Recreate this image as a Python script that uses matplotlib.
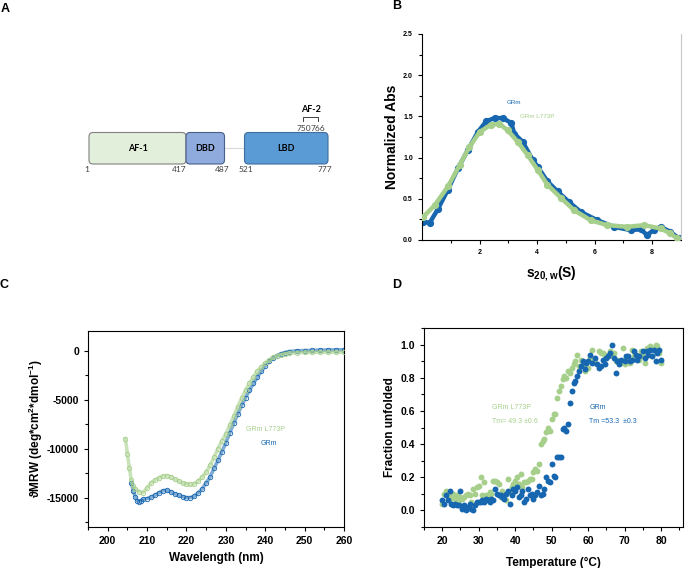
import matplotlib
matplotlib.use('Agg')
import matplotlib.pyplot as plt
from matplotlib.patches import FancyBboxPatch
from matplotlib.ticker import MultipleLocator, FixedLocator

plt.rcParams['font.family'] = ['Liberation Sans', 'DejaVu Sans']
plt.rcParams['axes.unicode_minus'] = False
plt.rcParams['mathtext.fontset'] = 'custom'
plt.rcParams['mathtext.rm'] = 'Liberation Sans:bold'
plt.rcParams['mathtext.bf'] = 'Liberation Sans:bold'
plt.rcParams['mathtext.it'] = 'Liberation Sans:bold'

# ---------------- data ----------------
# Panel A: domain schematic
domain_names = ['AF-1', 'DBD', 'LBD']
residue_labels = ['1', '417', '487', '521', '777']
af2_label = 'AF-2'
af2_residues = ['750', '766']

# Panel B: sedimentation velocity c(s)
b_s_grm = [0.04, 0.27, 0.56, 0.90, 1.25, 1.59, 1.94, 2.23, 2.52, 2.81, 3.10, 3.21,
           3.50, 3.85, 4.02, 4.36, 4.71, 5.11, 5.52, 6.09, 6.67, 7.25, 7.60, 7.82,
           8.05, 8.29, 8.63, 8.92]
b_abs_grm = [0.22, 0.21, 0.38, 0.61, 0.87, 1.09, 1.31, 1.44, 1.48, 1.48, 1.42, 1.29,
             1.19, 0.97, 0.89, 0.71, 0.59, 0.46, 0.34, 0.24, 0.16, 0.12, 0.13, 0.06,
             0.12, 0.16, 0.10, 0.02]
b_s_mut = [0.04, 0.44, 0.90, 1.31, 1.65, 2.00, 2.40, 2.69, 2.98, 3.33, 3.67, 4.02,
           4.36, 4.83, 5.29, 5.86, 6.44, 7.13, 7.71, 8.29, 8.63, 8.86]
b_abs_mut = [0.28, 0.42, 0.65, 0.91, 1.13, 1.31, 1.40, 1.41, 1.33, 1.19, 1.03, 0.85,
             0.67, 0.51, 0.36, 0.24, 0.18, 0.16, 0.18, 0.14, 0.08, 0.02]

# Panel C: far-UV CD spectra
c_wl_mut = [204.5, 205, 205.5, 206, 206.5, 207, 208, 209, 210, 211, 212, 213, 214, 215,
            216, 217, 218, 219, 220, 221, 222, 223, 224, 225, 226, 227, 228, 229, 230,
            231, 232, 233, 234, 235, 236, 237, 238, 239, 240, 241, 242, 243, 244, 245,
            246, 248, 250, 252, 254, 256, 258, 260]
c_cd_mut = [-9000, -10500, -12000, -13200, -13800, -14100, -14400, -14500, -14000,
            -13500, -13200, -13000, -12800, -12750, -12900, -13100, -13300, -13500,
            -13600, -13650, -13600, -13300, -12900, -12400, -11700, -10900, -10000,
            -9200, -8500, -7600, -6700, -5750, -4850, -4050, -3300, -2700, -2100,
            -1650, -1250, -950, -700, -520, -400, -320, -260, -210, -190, -170, -160,
            -160, -160, -160]
c_wl_grm = [206, 206.5, 207, 207.5, 208, 208.5, 209, 210, 211, 212, 213, 214, 215, 216,
            217, 218, 219, 220, 221, 222, 223, 224, 225, 226, 227, 228, 229, 230, 231,
            232, 233, 234, 235, 236, 237, 238, 239, 240, 241, 242, 243, 244, 245, 246,
            248, 250, 252, 254, 256, 258, 260]
c_cd_grm = [-13500, -14300, -14900, -15300, -15400, -15300, -15150, -15100, -14950,
            -14750, -14500, -14300, -14250, -14400, -14600, -14750, -14900, -15000,
            -15000, -14850, -14500, -14100, -13500, -12900, -12000, -11200, -10300,
            -9400, -8400, -7400, -6500, -5600, -4800, -4050, -3350, -2700, -2100, -1550,
            -1100, -750, -500, -320, -200, -100, -20, 0, 30, 50, 70, 80, 90]

# Panel D: thermal denaturation
d_t_mut = [20.0, 20.5, 21.0, 21.5, 22.0, 22.5, 23.0, 23.5, 24.0, 24.5, 25.0, 25.5, 26.0,
           26.5, 27.0, 27.5, 28.0, 28.5, 29.0, 29.5, 30.0, 30.5, 31.0, 31.5, 32.0, 32.5,
           33.0, 33.5, 34.0, 34.5, 35.0, 35.5, 36.0, 36.5, 37.0, 37.5, 38.0, 38.5, 39.0,
           39.5, 40.0, 40.5, 41.0, 41.5, 42.0, 42.5, 43.0, 43.5, 44.0, 44.5, 45.0, 45.5,
           46.0, 46.5, 47.0, 47.5, 48.0, 48.5, 49.0, 49.5, 50.0, 50.5, 51.0, 51.5, 52.0,
           52.5, 53.0, 53.5, 54.0, 54.5, 55.0, 55.5, 56.0, 56.5, 57.0, 57.5, 58.0, 58.5,
           59.0, 59.5, 60.0, 60.5, 61.0, 61.5, 62.0, 63.0, 63.5, 64.0, 64.5, 65.0, 65.5,
           66.0, 66.5, 67.0, 67.5, 68.0, 69.0, 69.5, 70.0, 70.5, 71.0, 71.5, 72.0, 72.5,
           73.0, 74.0, 74.5, 75.0, 75.5, 76.0, 76.5, 77.0, 77.5, 78.0, 78.5, 79.0, 79.5,
           80.0]
d_f_mut = [0.04, 0.10, 0.12, 0.08, 0.07, 0.09, 0.10, 0.07, 0.09, 0.06, 0.08, 0.07, 0.08,
           0.09, 0.10, 0.09, 0.05, 0.13, 0.10, 0.14, 0.15, 0.20, 0.09, 0.17, 0.09, 0.09,
           0.11, 0.10, 0.18, 0.18, 0.17, 0.16, 0.08, 0.12, 0.09, 0.06, 0.19, 0.11, 0.14,
           0.16, 0.18, 0.20, 0.16, 0.22, 0.14, 0.17, 0.17, 0.18, 0.19, 0.19, 0.23, 0.25,
           0.24, 0.28, 0.40, 0.42, 0.43, 0.47, 0.50, 0.48, 0.55, 0.58, 0.58, 0.68, 0.72,
           0.75, 0.79, 0.81, 0.80, 0.84, 0.83, 0.86, 0.88, 0.90, 0.94, 0.87, 0.91, 0.88,
           0.84, 0.87, 0.86, 0.92, 0.97, 0.90, 0.89, 0.96, 0.95, 0.95, 0.94, 0.92, 0.93,
           0.96, 0.94, 0.95, 0.90, 0.91, 0.89, 0.98, 0.88, 0.92, 0.92, 0.89, 0.97, 0.93,
           0.94, 0.91, 0.96, 0.93, 0.89, 0.98, 0.97, 0.99, 0.93, 0.98, 1.00, 0.99, 0.95,
           0.89]
d_t_grm = [20.0, 20.5, 21.0, 21.5, 22.0, 22.5, 23.0, 23.5, 24.0, 24.5, 25.0, 25.5, 26.0,
           26.5, 27.0, 27.5, 28.0, 28.5, 29.0, 29.5, 30.0, 30.5, 31.0, 31.5, 32.0, 32.5,
           33.0, 33.5, 34.0, 34.5, 35.0, 35.5, 36.0, 36.5, 37.0, 37.5, 38.0, 38.5, 39.0,
           39.5, 40.0, 40.5, 41.0, 41.5, 42.0, 42.5, 43.0, 43.5, 44.0, 44.5, 45.0, 45.5,
           46.0, 46.5, 47.0, 47.5, 48.0, 48.5, 49.0, 49.5, 50.0, 50.5, 51.0, 51.5, 52.0,
           52.5, 53.0, 53.5, 54.0, 54.5, 55.0, 55.5, 56.0, 56.5, 57.0, 57.5, 58.0, 58.5,
           59.0, 59.5, 60.0, 60.5, 61.0, 62.0, 62.5, 63.0, 63.5, 64.0, 64.5, 65.0, 65.5,
           66.0, 66.5, 67.0, 67.5, 68.0, 68.5, 69.0, 70.0, 70.5, 71.0, 71.5, 72.0, 72.5,
           73.0, 73.5, 74.0, 75.0, 75.5, 76.0, 76.5, 77.0, 77.5, 78.0, 78.5, 79.0, 79.5,
           80.0]
d_f_grm = [0.06, 0.04, 0.09, 0.06, 0.12, 0.04, 0.03, 0.04, 0.03, 0.03, 0.12, 0.01, 0.03,
           0.00, 0.02, 0.04, 0.01, 0.00, 0.03, 0.05, 0.05, 0.05, 0.06, 0.05, 0.07, 0.06,
           0.05, 0.07, 0.06, 0.13, 0.10, 0.09, 0.09, 0.08, 0.07, 0.10, 0.12, 0.04, 0.09,
           0.13, 0.12, 0.14, 0.08, 0.09, 0.12, 0.05, 0.07, 0.13, 0.09, 0.10, 0.07, 0.09,
           0.11, 0.15, 0.09, 0.10, 0.13, 0.20, 0.18, 0.17, 0.28, 0.21, 0.20, 0.32, 0.32,
           0.32, 0.49, 0.50, 0.48, 0.52, 0.65, 0.72, 0.77, 0.78, 0.81, 0.84, 0.87, 0.90,
           0.85, 0.89, 0.90, 0.94, 0.89, 0.92, 0.88, 0.86, 0.87, 0.91, 0.88, 0.92, 0.93,
           0.95, 1.00, 0.92, 0.83, 0.90, 0.88, 0.91, 0.90, 0.93, 0.93, 0.90, 0.91, 0.96,
           0.94, 0.91, 0.93, 0.96, 0.92, 0.96, 0.94, 0.97, 0.93, 0.97, 0.90, 0.95, 0.97,
           0.91]

series_names = ['GRm', 'GRm L773P']
tm_labels = ['Tm =53.3  \u00b10.3', 'Tm= 49.3 \u00b10.6']

# ---------------- style ----------------
BLUE = '#1666b0'
GREEN = '#a6cf8b'
W, H = 685, 568
fig = plt.figure(figsize=(W / 100, H / 100), dpi=100)

def fpos(l, t, r, b):
    return [l / W, 1 - b / H, (r - l) / W, (b - t) / H]

# overlay for schematic & panel letters (pixel coordinates)
ax0 = fig.add_axes([0, 0, 1, 1])
ax0.set_xlim(0, W)
ax0.set_ylim(H, 0)
ax0.axis('off')

for lab, (x, y) in zip(['A', 'B', 'C', 'D'], [(5, 9), (397, 6), (4, 285), (397, 285)]):
    ax0.text(x, y, lab, fontsize=9, fontweight='bold', ha='center', va='center')

# schematic
box_x = [(89, 186), (186, 224.5), (244.5, 328)]
box_fc = ['#e2efda', '#8faadc', '#5b9bd5']
box_ec = ['#808080', '#4a5f8a', '#3d6e9e']
y0, y1 = 132.5, 164
ax0.plot([224.5, 244.5], [148, 148], color='#d9d9d9', lw=0.8, zorder=1)
for name, (xa, xb), fc, ec in zip(domain_names, box_x, box_fc, box_ec):
    p = FancyBboxPatch((xa, y0), xb - xa, y1 - y0,
                       boxstyle='round,pad=0,rounding_size=4',
                       fc=fc, ec=ec, lw=0.8, zorder=2)
    ax0.add_patch(p)
    ax0.text((xa + xb) / 2, (y0 + y1) / 2, name, fontsize=6.5, fontweight='bold',
             family=['Lato', 'DejaVu Sans'], ha='center', va='center', zorder=3)
res_pos = [(86.7, 'center'), (186, 'right'), (229.5, 'right'), (238.5, 'left'), (332, 'right')]
for lab, (x, ha) in zip(residue_labels, res_pos):
    ax0.text(x, 169.5, lab, fontsize=6, family=['Lato', 'DejaVu Sans'], color='#404040',
             ha=ha, va='center')
ax0.plot([303.5, 303.5, 318.5, 318.5], [121, 116.5, 116.5, 121], color='#404040', lw=0.7)
ax0.text(311, 109.5, af2_label, fontsize=6.5, fontweight='bold',
         family=['Lato', 'DejaVu Sans'], ha='center', va='center')
ax0.text(311.5, 128.3, af2_residues[0], fontsize=6, family=['Lato', 'DejaVu Sans'],
         color='#404040', ha='right', va='center')
ax0.text(311, 128.3, af2_residues[1], fontsize=6, family=['Lato', 'DejaVu Sans'],
         color='#404040', ha='left', va='center')

def style_ticks(ax, size):
    ax.tick_params(which='both', direction='out', labelsize=size, width=0.8)
    ax.tick_params(which='major', length=3)
    ax.tick_params(which='minor', length=2)
    for t in ax.get_xticklabels() + ax.get_yticklabels():
        t.set_fontweight('bold')

# ---------------- Panel B ----------------
axB = fig.add_axes(fpos(422, 34, 681, 240))
axB.plot(b_s_grm, b_abs_grm, '-o', color=BLUE, lw=3.2, ms=4.2, zorder=2)
axB.plot(b_s_mut, b_abs_mut, '-o', color=GREEN, lw=3.2, ms=4.2, zorder=3)
axB.set_xlim(0, 9)
axB.set_ylim(0, 2.5)
axB.xaxis.set_major_locator(FixedLocator([2, 4, 6, 8]))
axB.xaxis.set_minor_locator(FixedLocator([1, 3, 5, 7]))
axB.yaxis.set_major_locator(MultipleLocator(0.5))
axB.yaxis.set_minor_locator(MultipleLocator(0.25))
axB.yaxis.set_major_formatter(matplotlib.ticker.FormatStrFormatter('%.1f'))
axB.spines['top'].set_visible(False)
axB.spines['right'].set_color('#c8c8c8')
axB.tick_params(which='both', right=False)
style_ticks(axB, 5)
axB.set_ylabel('Normalized Abs', fontsize=10, fontweight='bold', labelpad=3)
axB.set_xlabel(r'$\mathbf{s_{20,w}(S)}$', fontsize=10, labelpad=6)
axB.text(3.18, 1.67, series_names[0], color=BLUE, fontsize=4.5, ha='center', va='center')
axB.text(4.02, 1.50, series_names[1], color=GREEN, fontsize=4.5, ha='center', va='center')

# ---------------- Panel C ----------------
axC = fig.add_axes(fpos(88, 331, 344, 527))
axC.plot(c_wl_grm, c_cd_grm, '-', color=BLUE, lw=2.6, alpha=0.55, zorder=2)
axC.plot(c_wl_grm, c_cd_grm, 'o', mfc='none', mec=BLUE, mew=0.6, ms=3.2, zorder=2)
axC.plot(c_wl_mut, c_cd_mut, '-', color=GREEN, lw=2.6, alpha=0.6, zorder=3)
axC.plot(c_wl_mut, c_cd_mut, 'o', mfc='none', mec=GREEN, mew=0.6, ms=3.2, zorder=3)
axC.set_xlim(195, 260)
axC.set_ylim(-18000, 2000)
axC.xaxis.set_major_locator(MultipleLocator(10))
axC.xaxis.set_minor_locator(MultipleLocator(5))
axC.yaxis.set_major_locator(MultipleLocator(5000))
axC.yaxis.set_minor_locator(MultipleLocator(2500))
style_ticks(axC, 7.5)
axC.set_xlabel('Wavelength (nm)', fontsize=8.5, fontweight='bold')
axC.set_ylabel('\u03d1MRW (deg*cm$^2$*dmol$^{-1}$)', fontsize=8.5, fontweight='bold',
               labelpad=1)
axC.text(240.1, -8100, series_names[1], color=GREEN, fontsize=5, ha='center', va='center')
axC.text(241.0, -9500, series_names[0], color=BLUE, fontsize=5, ha='center', va='center')

# ---------------- Panel D ----------------
axD = fig.add_axes(fpos(424, 328, 683, 527))
axD.scatter(d_t_mut, d_f_mut, s=18, color=GREEN, lw=0, zorder=2)
axD.scatter(d_t_grm, d_f_grm, s=18, color=BLUE, lw=0, zorder=3)
axD.set_xlim(15, 86)
axD.set_ylim(-0.1, 1.1)
axD.xaxis.set_major_locator(MultipleLocator(10))
axD.xaxis.set_minor_locator(MultipleLocator(5))
axD.yaxis.set_major_locator(MultipleLocator(0.2))
axD.yaxis.set_minor_locator(MultipleLocator(0.1))
axD.yaxis.set_major_formatter(matplotlib.ticker.FormatStrFormatter('%.1f'))
style_ticks(axD, 7.5)
axD.set_xlabel('Temperature (\u00b0C)', fontsize=8.5, fontweight='bold', labelpad=8)
axD.set_ylabel('Fraction unfolded', fontsize=8.5, fontweight='bold', labelpad=3)
axD.text(33.7, 0.62, series_names[1], color=GREEN, fontsize=5, ha='left', va='center')
axD.text(33.7, 0.536, tm_labels[1], color=GREEN, fontsize=5, ha='left', va='center')
axD.text(60.3, 0.62, series_names[0], color=BLUE, fontsize=5, ha='left', va='center')
axD.text(60.3, 0.536, tm_labels[0], color=BLUE, fontsize=5, ha='left', va='center')

fig.savefig('out.png', dpi=100)
